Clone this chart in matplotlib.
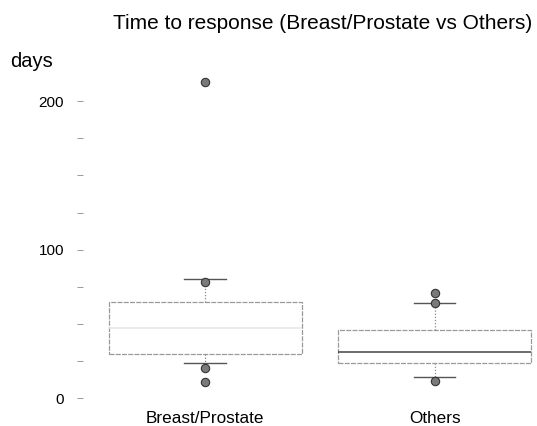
import matplotlib
matplotlib.use("Agg")
import matplotlib.pyplot as plt
from matplotlib.ticker import MultipleLocator

plt.rcParams['font.family'] = ['Liberation Sans', 'DejaVu Sans']

# box statistics (days)
groups = ['Breast/Prostate', 'Others']
whisker_low = [24, 14]
q1 = [29.5, 23.5]
median = [47, 31]
q3 = [64.5, 46]
whisker_high = [80, 64]
outliers = [[213, 78, 20, 11], [71, 64, 11.5]]

stats = []
for i, name in enumerate(groups):
    stats.append({'label': name, 'whislo': whisker_low[i], 'q1': q1[i], 'med': median[i],
                  'q3': q3[i], 'whishi': whisker_high[i], 'fliers': outliers[i]})

fig = plt.figure(figsize=(5.37, 4.26), dpi=100)
# y=0 sits at ~398 px, 1.485 px per day
ax = fig.add_axes([0.149, 0.048, 0.851, 0.784])

parts = ax.bxp(stats, positions=[1, 2], widths=0.84, capwidths=0.18,
               boxprops=dict(color='#9a9a9a', linewidth=0.9, linestyle=(0, (4, 1))),
               whiskerprops=dict(color='#8a8a8a', linewidth=0.9, linestyle=(0, (1, 1.5))),
               capprops=dict(color='#555555', linewidth=1.0),
               medianprops=dict(color='#444444', linewidth=1.1),
               flierprops=dict(marker='o', markersize=6, markerfacecolor='#7a7a7a',
                               markeredgecolor='#333333', markeredgewidth=0.8))
# the first box's median is barely visible in the scan
parts['medians'][0].set_color('#e6e6e6')

ax.set_xlim(0.455, 2.445)
ax.set_ylim(-5, 220)
ax.yaxis.set_major_locator(MultipleLocator(100))
ax.yaxis.set_minor_locator(MultipleLocator(25))
ax.tick_params(axis='y', which='both', direction='inout', length=5, width=0.7,
               color='#999999', labelsize=11, pad=9)
ax.tick_params(axis='x', length=0, labelsize=12.3, pad=4)
for s in ax.spines.values():
    s.set_visible(False)

fig.text(0.6, 0.946, 'Time to response (Breast/Prostate vs Others)', ha='center', va='center', fontsize=15)
fig.text(0.018, 0.855, 'days', ha='left', va='center', fontsize=14.5)

fig.savefig('out.png', dpi=100)
